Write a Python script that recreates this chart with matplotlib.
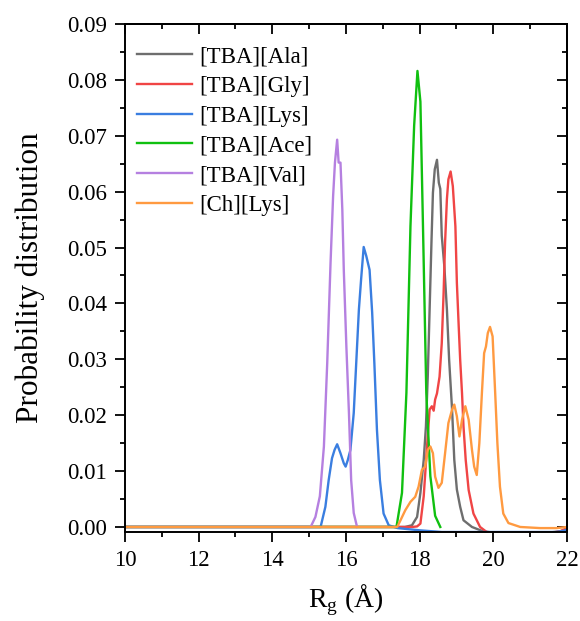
import matplotlib
matplotlib.use("Agg")
import matplotlib.pyplot as plt
from matplotlib.ticker import MultipleLocator

plt.rcParams['font.family'] = ['Liberation Serif', 'DejaVu Serif']
plt.rcParams['mathtext.fontset'] = 'custom'
plt.rcParams['mathtext.rm'] = 'Liberation Serif'

labels = ['[TBA][Ala]', '[TBA][Gly]', '[TBA][Lys]', '[TBA][Ace]', '[TBA][Val]', '[Ch][Lys]']
colors = ['#6e6e6e', '#f04545', '#3a7ee0', '#10c010', '#b580e0', '#ff9a40']

ala_x = [10.0, 17.6, 17.79, 17.93, 18.02, 18.11, 18.17, 18.22, 18.27, 18.32, 18.36, 18.41, 18.47, 18.52,
         18.56, 18.60, 18.67, 18.74, 18.80, 18.88, 18.94, 19.01, 19.10, 19.19, 19.42, 19.73, 20.0, 21.5, 21.8, 22.0]
ala_y = [0.0, 0.0, 0.0003, 0.0018, 0.0061, 0.0120, 0.0180, 0.0270, 0.0389, 0.0509, 0.0598, 0.0640, 0.0657, 0.0616,
         0.0605, 0.0521, 0.0466, 0.0389, 0.0299, 0.0210, 0.0120, 0.0067, 0.0036, 0.0012, 0.0, -0.0008, -0.0010, -0.0010, -0.0008, -0.0005]

gly_x = [10.0, 17.8, 17.93, 18.02, 18.11, 18.20, 18.27, 18.33, 18.38, 18.42, 18.47, 18.54, 18.60, 18.65, 18.69,
         18.74, 18.78, 18.84, 18.90, 18.97, 19.01, 19.06, 19.10, 19.15, 19.19, 19.25, 19.33, 19.46, 19.64, 19.82,
         20.0, 21.6, 21.8, 22.0]
gly_y = [0.0, 0.0, 0.0001, 0.0006, 0.0055, 0.0144, 0.0210, 0.0216, 0.0208, 0.0228, 0.0239, 0.0269, 0.0329, 0.0419, 0.0509,
         0.0587, 0.0622, 0.0636, 0.0610, 0.0538, 0.0437, 0.0359, 0.0299, 0.0239, 0.0180, 0.0120, 0.0066, 0.0024, 0.0, -0.0009,
         -0.0010, -0.0010, -0.0008, -0.0002]

lys_x = [10.0, 15.31, 15.44, 15.53, 15.62, 15.69, 15.76, 15.85, 15.94, 15.99, 16.05, 16.12, 16.21, 16.30, 16.35,
         16.41, 16.48, 16.55, 16.64, 16.71, 16.77, 16.84, 16.92, 17.02, 17.16, 17.4, 18.0, 18.6, 21.7, 21.9, 22.0]
lys_y = [0.0, 0.0, 0.0036, 0.0084, 0.0123, 0.0138, 0.0148, 0.0132, 0.0114, 0.0108, 0.0120, 0.0138, 0.0204, 0.0323, 0.0389,
         0.0443, 0.0501, 0.0485, 0.0460, 0.0384, 0.0293, 0.0174, 0.0084, 0.0024, 0.0003, -0.0002, -0.0006, -0.0009, -0.0009, -0.0007, -0.0005]

ace_x = [10.0, 17.37, 17.52, 17.64, 17.75, 17.85, 17.94, 18.02, 18.09, 18.18, 18.29, 18.42, 18.56]
ace_y = [0.0, 0.0, 0.0061, 0.0240, 0.0538, 0.0718, 0.0816, 0.0761, 0.0538, 0.0240, 0.0091, 0.0020, 0.0]

val_x = [10.0, 15.04, 15.17, 15.29, 15.40, 15.49, 15.58, 15.65, 15.70, 15.76, 15.80, 15.85, 15.90, 15.94,
         16.01, 16.08, 16.14, 16.21, 16.30]
val_y = [0.0, 0.0, 0.0018, 0.0055, 0.0144, 0.0293, 0.0472, 0.0592, 0.0652, 0.0693, 0.0652, 0.0652, 0.0568, 0.0460,
         0.0323, 0.0204, 0.0084, 0.0025, 0.0]

chl_x = [10.0, 17.39, 17.48, 17.61, 17.75, 17.88, 17.97, 18.06, 18.15, 18.22, 18.29, 18.36, 18.42, 18.51, 18.60,
         18.69, 18.78, 18.88, 18.94, 19.01, 19.08, 19.15, 19.24, 19.33, 19.42, 19.48, 19.55, 19.62, 19.69, 19.75,
         19.80, 19.85, 19.91, 19.98, 20.05, 20.11, 20.18, 20.27, 20.41, 20.73, 21.27, 21.72, 22.0]
chl_y = [0.0, 0.0, 0.0012, 0.0030, 0.0045, 0.0054, 0.0072, 0.0102, 0.0108, 0.0138, 0.0144, 0.0132, 0.0090, 0.0070, 0.0079,
         0.0132, 0.0186, 0.0210, 0.0219, 0.0198, 0.0162, 0.0192, 0.0216, 0.0192, 0.0138, 0.0108, 0.0093, 0.0150, 0.0240, 0.0311,
         0.0323, 0.0347, 0.0358, 0.0341, 0.0240, 0.0150, 0.0072, 0.0024, 0.0007, 0.0, -0.0002, -0.0002, 0.0]

series_x = [ala_x, gly_x, lys_x, ace_x, val_x, chl_x]
series_y = [ala_y, gly_y, lys_y, ace_y, val_y, chl_y]

fig = plt.figure(figsize=(5.8, 6.21), dpi=100)
ax = fig.add_axes([125/580, 1-532/621, (567-125)/580, (532-24)/621])

for xs, ys, c, lab in zip(series_x, series_y, colors, labels):
    ax.plot(xs, ys, color=c, lw=1.7, label=lab)

ax.set_xlim(10, 22)
ax.set_ylim(-0.0009, 0.09)
ax.xaxis.set_major_locator(MultipleLocator(2))
ax.xaxis.set_minor_locator(MultipleLocator(1))
ax.yaxis.set_major_locator(MultipleLocator(0.01))
ax.yaxis.set_minor_locator(MultipleLocator(0.005))
ax.yaxis.set_major_formatter(matplotlib.ticker.FormatStrFormatter('%.2f'))

for s in ax.spines.values():
    s.set_linewidth(1.4)

ax.tick_params(axis='both', which='both', direction='out', width=1.3, labelsize=16.5,
               top=False, right=False)
ax.tick_params(which='major', length=7, pad=6)
ax.tick_params(which='minor', length=3.5)

# mirrored inward ticks on top and right
axt = ax.secondary_xaxis('top')
axt.xaxis.set_major_locator(MultipleLocator(2))
axt.xaxis.set_minor_locator(MultipleLocator(1))
axt.tick_params(which='both', direction='in', width=1.3, labeltop=False)
axt.tick_params(which='major', length=7)
axt.tick_params(which='minor', length=3.5)
axt.spines['top'].set_linewidth(1.4)
axr = ax.secondary_yaxis('right')
axr.yaxis.set_major_locator(MultipleLocator(0.01))
axr.yaxis.set_minor_locator(MultipleLocator(0.005))
axr.tick_params(which='both', direction='in', width=1.3, labelright=False)
axr.tick_params(which='major', length=7)
axr.tick_params(which='minor', length=3.5)
axr.spines['right'].set_linewidth(1.4)

ax.set_xlabel(r'R$_\mathrm{g}$ (Å)', fontsize=20, labelpad=8)
ax.set_ylabel('Probability distribution', fontsize=22.5, labelpad=16)

ax.legend(loc='upper left', bbox_to_anchor=(0.004, 0.977), frameon=False, fontsize=16.5,
          handlelength=2.4, handletextpad=0.3, labelspacing=0.38, borderaxespad=0.0, borderpad=0.45)

fig.savefig('out.png', dpi=100)
